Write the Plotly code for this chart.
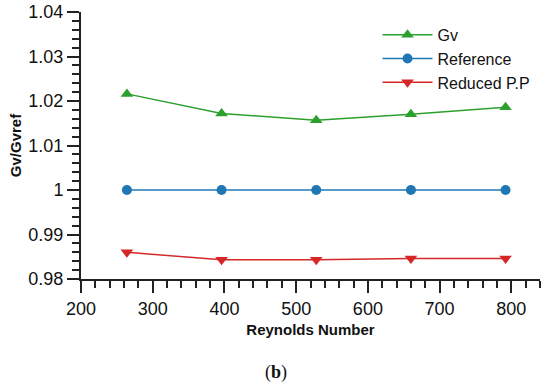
import plotly.graph_objects as go

reynolds = [264, 396, 528, 660, 792]
gv = [1.0216, 1.0172, 1.0157, 1.0170, 1.0186]
reference = [1.0, 1.0, 1.0, 1.0, 1.0]
reduced_pp = [0.9860, 0.9843, 0.9843, 0.9846, 0.9846]

y_tickvals = [0.98, 0.99, 1.0, 1.01, 1.02, 1.03, 1.04]
y_ticktext = ["0.98", "0.99", "1", "1.01", "1.02", "1.03", "1.04"]
x_tickvals = [200, 300, 400, 500, 600, 700, 800]
x_ticktext = ["200", "300", "400", "500", "600", "700", "800"]

fig = go.Figure()
fig.add_trace(go.Scatter(x=reynolds, y=gv, name="Gv", mode="lines+markers",
                         line=dict(color="#2ca02c", width=1.5),
                         marker=dict(symbol="triangle-up", size=11, color="#2ca02c")))
fig.add_trace(go.Scatter(x=reynolds, y=reference, name="Reference", mode="lines+markers",
                         line=dict(color="#1f77b4", width=1.5),
                         marker=dict(symbol="circle", size=10, color="#1f77b4")))
fig.add_trace(go.Scatter(x=reynolds, y=reduced_pp, name="Reduced P.P", mode="lines+markers",
                         line=dict(color="#d62728", width=1.5),
                         marker=dict(symbol="triangle-down", size=11, color="#d62728")))

axis_font = dict(family="Liberation Sans, Arial, sans-serif", size=18, color="#111")
fig.update_layout(
    width=550, height=386,
    margin=dict(l=81, r=10, t=12, b=107),
    plot_bgcolor="white", paper_bgcolor="white",
    font=dict(family="Liberation Sans, Arial, sans-serif", color="#111"),
    showlegend=True,
    legend=dict(x=0.646, y=0.978, xanchor="left", yanchor="top",
                font=dict(size=16, color="#111"), itemwidth=50,
                bgcolor="rgba(0,0,0,0)", tracegroupgap=0),
    xaxis=dict(range=[200, 840], showgrid=False, zeroline=False, automargin=False,
               showline=True, linecolor="#222", linewidth=2,
               ticks="outside", ticklen=12, tickwidth=2, tickcolor="#222",
               tickvals=x_tickvals, ticktext=x_ticktext, tickfont=axis_font,
               minor=dict(ticks="outside", ticklen=7, tickwidth=1.5, tickcolor="#222", dtick=20, tick0=200, showgrid=False),
               title=dict(text="<b>Reynolds Number</b>", font=dict(size=15, color="#111"), standoff=7)),
    yaxis=dict(range=[0.98, 1.04], showgrid=False, zeroline=False, automargin=False,
               showline=True, linecolor="#222", linewidth=2,
               ticks="outside", ticklen=12, tickwidth=2, tickcolor="#222",
               tickvals=y_tickvals, ticktext=y_ticktext, tickfont=axis_font,
               minor=dict(ticks="outside", ticklen=7, tickwidth=1.5, tickcolor="#222", dtick=0.002, tick0=0.98, showgrid=False),
               title=dict(text="<b>Gv/Gvref</b>", font=dict(size=15, color="#111"), standoff=3)),
)
fig.add_annotation(text="(<b>b</b>)", xref="paper", yref="paper", x=0.425, y=-0.397,
                   showarrow=False, font=dict(family="Liberation Serif, Times New Roman, serif", size=18, color="#111"))
fig.write_html("out.html", config={"displayModeBar": False},
               post_script="document.body.style.margin='0px';")
